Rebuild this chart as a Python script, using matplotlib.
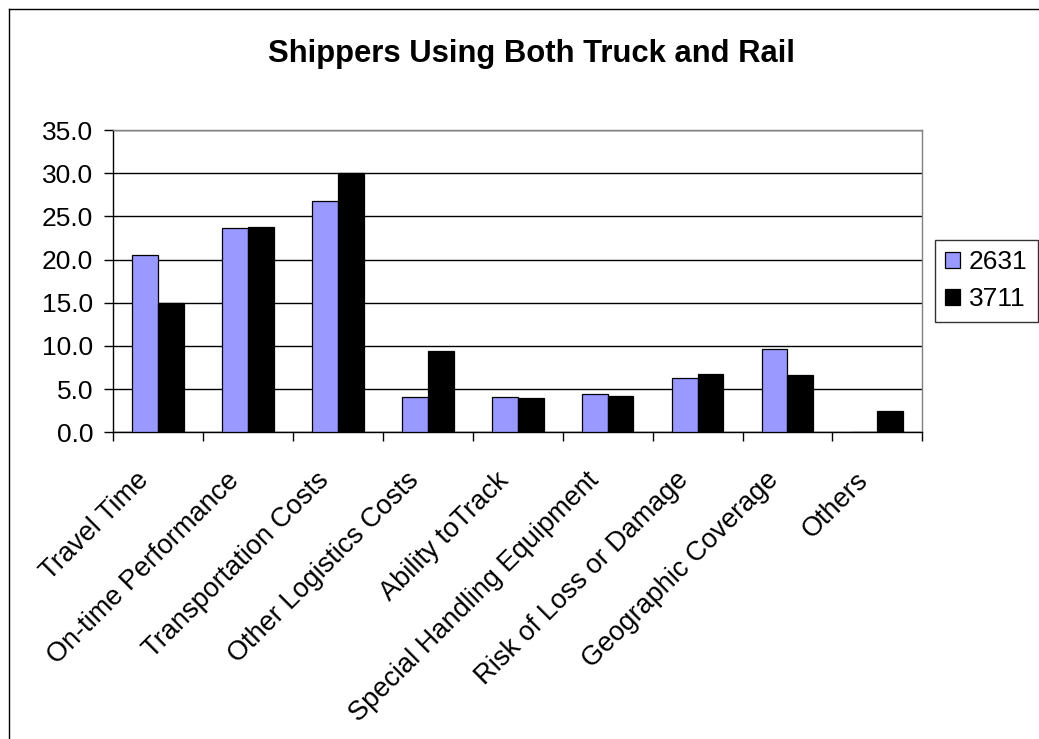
import numpy as np
import matplotlib
matplotlib.use("Agg")
import matplotlib.pyplot as plt
from matplotlib.lines import Line2D
from matplotlib.transforms import ScaledTranslation

plt.rcParams['font.family'] = ['Liberation Sans', 'DejaVu Sans']

categories = ['Travel Time', 'On-time Performance', 'Transportation Costs',
              'Other Logistics Costs', 'Ability toTrack',
              'Special Handling Equipment', 'Risk of Loss or Damage',
              'Geographic Coverage', 'Others']
series_2631 = [20.5, 23.6, 26.8, 4.1, 4.1, 4.4, 6.3, 9.7, 0.0]
series_3711 = [15.0, 23.8, 30.0, 9.4, 4.0, 4.2, 6.8, 6.6, 2.5]
y_ticks = [0, 5, 10, 15, 20, 25, 30, 35]

W, H = 1039, 739
fig = plt.figure(figsize=(W / 100, H / 100), dpi=100)
ax = fig.add_axes([113.3 / W, 1 - 432.3 / H, 809 / W, 302.3 / H])

x = np.arange(len(categories))
bw = 0.287
ax.bar(x - bw / 2, series_2631, bw, color='#9999FF', edgecolor='black',
       linewidth=0.9, label='2631', zorder=3)
ax.bar(x + bw / 2, series_3711, bw, color='black', edgecolor='black',
       linewidth=0.9, label='3711', zorder=3)

ax.set_xlim(-0.5, len(categories) - 0.5)
ax.set_ylim(0, 35)
ax.set_yticks(y_ticks)
ax.set_yticklabels([f'{v:.1f}' for v in y_ticks], fontsize=19)
ax.yaxis.grid(True, color='black', linewidth=1, zorder=0)

# ticks on the group boundaries
ax.set_xticks(np.arange(len(categories) + 1) - 0.5)
ax.set_xticklabels([])
ax.tick_params(axis='x', length=6.5, width=1, direction='out')
ax.tick_params(axis='y', length=6.5, width=1, pad=8, direction='out')

# slanted category names, right end of the baseline just left of centre
shift = ScaledTranslation(-8 / 100, -49 / 100, fig.dpi_scale_trans)
for xi, name in zip(x, categories):
    ax.text(xi, 0, name, transform=ax.get_xaxis_transform() + shift,
            rotation=45, rotation_mode='anchor', ha='right', va='baseline',
            fontsize=19.5)

for side in ['top', 'right']:
    ax.spines[side].set_color('#808080')
    ax.spines[side].set_linewidth(1)
for side in ['left', 'bottom']:
    ax.spines[side].set_color('black')
    ax.spines[side].set_linewidth(1)

fig.text(531 / W, 1 - 54 / H, 'Shippers Using Both Truck and Rail',
         ha='center', va='center', fontsize=22.3, fontweight='bold')

leg = fig.legend(loc='upper left', bbox_to_anchor=(935 / W, 1 - 240 / H),
                 fontsize=19, frameon=True, fancybox=False,
                 edgecolor='black', handlelength=0.55, handleheight=0.55,
                 handletextpad=0.35, borderpad=0.39, labelspacing=0.5,
                 borderaxespad=0)
leg.get_frame().set_linewidth(1)

# outer chart border
fig.add_artist(Line2D([8.5 / W, 8.5 / W], [0, 1 - 8.5 / H],
                      color='black', linewidth=1))
fig.add_artist(Line2D([8.5 / W, 1], [1 - 8.5 / H, 1 - 8.5 / H],
                      color='black', linewidth=1))

fig.savefig('out.png', dpi=100, facecolor='white')
